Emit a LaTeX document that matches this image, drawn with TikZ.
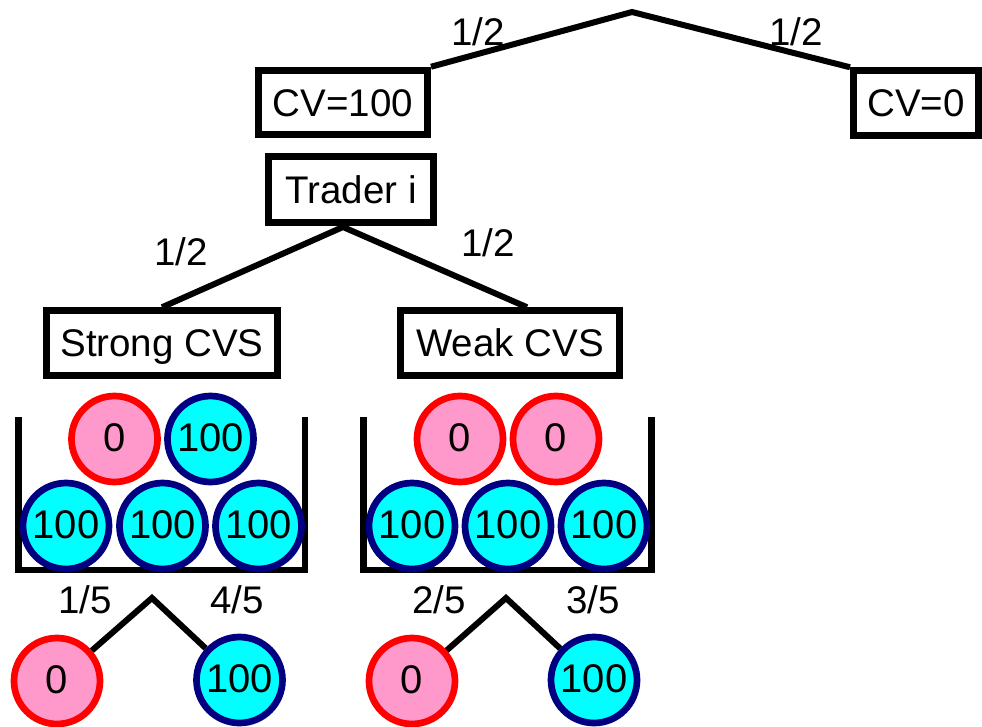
\documentclass[tikz,border=0pt]{standalone}
\usepackage{fontspec}
\setmainfont{Liberation Sans}
\definecolor{ballpink}{HTML}{FF99CC}
\definecolor{ballred}{HTML}{FF0000}
\definecolor{ballcyan}{HTML}{00FFFF}
\definecolor{ballnavy}{HTML}{000080}
\tikzset{
  txt/.style={font=\fontsize{38.5}{46}\selectfont, text height=27.5pt, text depth=0pt, inner sep=0pt},
  balltxt/.style={font=\fontsize{40}{48}\selectfont, text height=28.5pt, text depth=4pt, inner sep=0pt},
  box/.style={txt, draw=black, line width=7pt, rectangle, minimum height=64.5pt},
  conn/.style={draw=black, line width=6pt},
  bin/.style={draw=black, line width=6.7pt, line join=miter},
  redball/.style={balltxt, circle, draw=ballred, fill=ballpink, line width=6.7pt, minimum size=86pt},
  blueball/.style={balltxt, circle, draw=ballnavy, fill=ballcyan, line width=6.7pt, minimum size=86pt},
}
\begin{document}
\begin{tikzpicture}[x=1pt,y=-1pt]
\useasboundingbox (0,0) rectangle (982,726);
% top level
\coordinate (top) at (632,12);
\node[box, minimum width=169pt] (cv100) at (343,102.5) {CV=100};
\node[box, minimum width=125pt] (cv0) at (916,103) {CV=0};
\draw[conn] (cv100.north east) -- (top) -- (cv0.north west);
\node[txt] (p1) at (478,32) {1/2};
\node[txt] (p2) at (796,32) {1/2};
% trader
\node[box, minimum width=165pt, minimum height=66pt] (trader) at (351,189.5) {Trader i};
\node[box, minimum width=231pt] (strong) at (162,343) {Strong CVS};
\node[box, minimum width=219pt] (weak) at (510,343) {Weak CVS};
\coordinate (tapex) at (343,227);
\draw[conn] (strong.north) -- (tapex) -- ([xshift=17pt]weak.north);
\node[txt] (p3) at (181,252) {1/2};
\node[txt] (p4) at (488,243) {1/2};
% left bin
\draw[bin] (18.3,417) -- (18.3,570) -- (305,570) -- (305,417);
\node[redball] (l1) at (114.5,439) {0};
\node[blueball] (l2) at (210.5,439) {100};
\node[blueball] (l3) at (66,526) {100};
\node[blueball] (l4) at (162.5,526) {100};
\node[blueball] (l5) at (258.5,526) {100};
% right bin
\draw[bin] (363.5,417) -- (363.5,570) -- (651.5,570) -- (651.5,417);
\node[redball] (r1) at (460,439) {0};
\node[redball] (r2) at (556,439) {0};
\node[blueball] (r3) at (412,526) {100};
\node[blueball] (r4) at (508,526) {100};
\node[blueball] (r5) at (604,526) {100};
% bottom left draw
\coordinate (a1) at (152,598);
\node[redball] (dl1) at (57,681) {0};
\node[blueball] (dl2) at (239.5,680) {100};
\draw[conn, line join=miter] (dl1) -- (a1) -- (dl2);
\node[txt] (q1) at (85,600) {1/5};
\node[txt] (q2) at (237,600) {4/5};
% bottom right draw
\coordinate (a2) at (506,598);
\node[redball] (dr1) at (412,681) {0};
\node[blueball] (dr2) at (594,680) {100};
\draw[conn, line join=miter] (dr1) -- (a2) -- (dr2);
\node[txt] (q3) at (439,600) {2/5};
\node[txt] (q4) at (593,600) {3/5};
\end{tikzpicture}
\end{document}
